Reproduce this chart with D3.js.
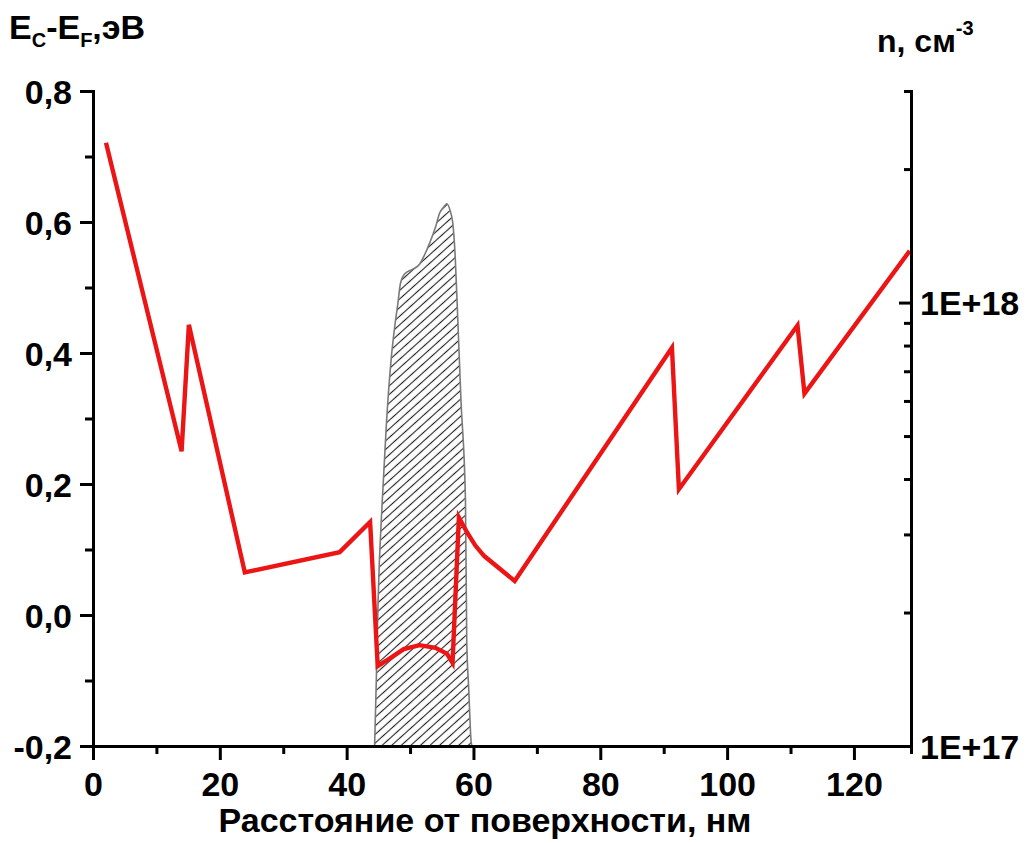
<!DOCTYPE html>
<html>
<head>
<meta charset="utf-8">
<script src="https://cdn.jsdelivr.net/npm/d3@7"></script>
<style>
  html, body { margin: 0; padding: 0; background: #fff; }
  svg { display: block; }
  text { font-family: "Liberation Sans", Arial, sans-serif; font-weight: bold; fill: #000; }
</style>
</head>
<body>
<svg id="chart" width="1030" height="843"></svg>
<script>
// Conduction band edge relative to Fermi level along depth (left axis)
const depthNm = [2.05, 13.97, 15.12, 23.94, 38.9, 43.7, 44.9, 47.0, 49.0, 51.5, 54.0, 55.8, 56.7, 57.7, 59.0, 60.3, 61.7, 66.5, 91.3, 92.4, 111.1, 112.2, 128.8];
const bandEv  = [0.721, 0.250, 0.443, 0.065, 0.096, 0.142, -0.078, -0.065, -0.052, -0.046, -0.050, -0.059, -0.073, 0.149, 0.126, 0.106, 0.090, 0.052, 0.408, 0.192, 0.442, 0.338, 0.556];

// Electron concentration profile of the quantum-well layer (right axis, log)
const wellDepthNm = [44.41, 44.68, 44.96, 45.62, 46.3, 47.0, 47.7, 48.08, 48.46, 49.13, 50.44, 51.5, 52.28, 53.07, 54.02, 54.65, 55.43, 55.8, 56.33, 56.74, 57.12, 57.43, 58.03, 58.74, 58.94, 59.26, 59.64, 59.76];
const wellConc    = [1.0e17, 1.41e17, 2.13e17, 3.58e17, 5.42e17, 7.40e17, 9.10e17, 9.95e17, 1.10e18, 1.16e18, 1.19e18, 1.22e18, 1.28e18, 1.36e18, 1.48e18, 1.59e18, 1.65e18, 1.67e18, 1.61e18, 1.51e18, 1.27e18, 9.95e17, 6.01e17, 3.58e17, 1.73e17, 1.34e17, 1.02e17, 1.0e17];

// Axis ticks and labels
const xMajorTicks = [0, 20, 40, 60, 80, 100, 120];
const xMinorTicks = [10, 30, 50, 70, 90, 110];
const yMajorTicks = [-0.2, 0.0, 0.2, 0.4, 0.6, 0.8];
const yMinorTicks = [-0.1, 0.1, 0.3, 0.5, 0.7];
const nMajorTicks = [1e17, 1e18];
const nMajorLabels = ["1E+17", "1E+18"];
const nMinorTicks = [2e17, 3e17, 4e17, 5e17, 6e17, 7e17, 8e17, 9e17, 2e18, 3e18];

const xTitle = "Расстояние от поверхности, нм";

const svg = d3.select("#chart");
const L = 93, R = 911, T = 91, B = 746;
const FS = 34;

const x = d3.scaleLinear().domain([0, 129]).range([L, R]);
const y = d3.scaleLinear().domain([-0.2, 0.8]).range([B, T]);
const yn = d3.scaleLog().domain([1e17, 3e18]).range([B, T]);

const ru = d3.formatLocale({decimal: ",", thousands: " ", grouping: [3], currency: ["", ""], minus: "-"});
const fmt1 = ru.format(".1f");

// Hatch pattern for the well region
const defs = svg.append("defs");
const pat = defs.append("pattern")
  .attr("id", "hatch")
  .attr("patternUnits", "userSpaceOnUse")
  .attr("width", 10).attr("height", 6.4)
  .attr("patternTransform", "rotate(-42)");
pat.append("line")
  .attr("x1", 0).attr("x2", 10).attr("y1", 3.2).attr("y2", 3.2)
  .attr("stroke", "#1e1e1e").attr("stroke-width", 1.1);

const wellData = wellDepthNm.map((d, i) => [d, wellConc[i]]);
const area = d3.area()
  .x(d => x(d[0]))
  .y0(yn(1e17))
  .y1(d => yn(d[1]))
  .curve(d3.curveMonotoneX);

svg.append("path")
  .datum(wellData)
  .attr("d", area)
  .attr("fill", "url(#hatch)")
  .attr("stroke", "#7a7a7a")
  .attr("stroke-width", 1.6);

// Band profile
const bandData = depthNm.map((d, i) => [d, bandEv[i]]);
svg.append("path")
  .datum(bandData)
  .attr("d", d3.line().x(d => x(d[0])).y(d => y(d[1])))
  .attr("fill", "none")
  .attr("stroke", "#ec1515")
  .attr("stroke-width", 4.4)
  .attr("stroke-linejoin", "miter");

// Axes
const axisW = 3;
const gx = svg.append("g").attr("transform", `translate(0,${B})`)
  .call(d3.axisBottom(x).tickValues(xMajorTicks).tickSize(14).tickSizeOuter(0).tickFormat(d3.format("d")));
gx.append("g").call(d3.axisBottom(x).tickValues(xMinorTicks).tickSize(8).tickFormat(""));

const gy = svg.append("g").attr("transform", `translate(${L},0)`)
  .call(d3.axisLeft(y).tickValues(yMajorTicks).tickSize(13).tickSizeOuter(0).tickFormat(fmt1));
gy.append("g").call(d3.axisLeft(y).tickValues(yMinorTicks).tickSize(8).tickFormat(""));

const gr = svg.append("g").attr("transform", `translate(${R},0)`)
  .call(d3.axisRight(yn).tickValues(nMajorTicks).tickSize(-12).tickSizeOuter(0)
    .tickFormat((d, i) => nMajorLabels[i]));
gr.append("g").call(d3.axisRight(yn).tickValues(nMinorTicks).tickSize(-7).tickFormat(""));

svg.selectAll(".domain").attr("stroke", "#000").attr("stroke-width", axisW);
svg.selectAll(".tick line").attr("stroke", "#000").attr("stroke-width", axisW);

const tickFont = sel => sel
  .attr("font-family", "Liberation Sans, Arial, sans-serif")
  .attr("font-weight", "bold").attr("font-size", FS);
gx.selectAll(".tick text").call(tickFont).attr("dy", 0).attr("y", 50);
gy.selectAll(".tick text").call(tickFont).attr("x", -21).attr("dy", "0.36em");
gr.selectAll(".tick text").call(tickFont).attr("x", 9).attr("dy", "0.36em");

// Axis titles
svg.append("text")
  .attr("x", 485).attr("y", 832)
  .attr("text-anchor", "middle").attr("font-size", FS)
  .text(xTitle);

const lt = svg.append("text").attr("x", 9).attr("y", 39).attr("font-size", FS);
lt.append("tspan").text("E");
lt.append("tspan").attr("font-size", 20).attr("dy", 8).text("C");
lt.append("tspan").attr("dy", -8).text("-E");
lt.append("tspan").attr("font-size", 20).attr("dy", 8).text("F");
lt.append("tspan").attr("dy", -8).text(",эВ");

const rt = svg.append("text").attr("x", 877).attr("y", 52).attr("font-size", 32);
rt.append("tspan").text("n, см");
rt.append("tspan").attr("font-size", 20).attr("dy", -17).text("-3");
</script>
</body>
</html>
